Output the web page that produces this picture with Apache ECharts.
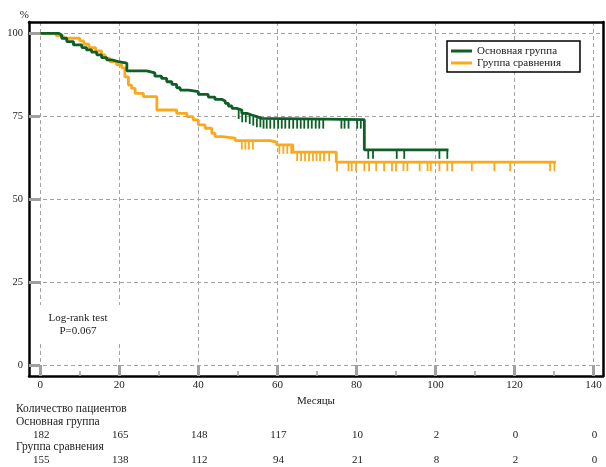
<!DOCTYPE html>
<html><head><meta charset="utf-8">
<script src="https://cdn.jsdelivr.net/npm/echarts@6/dist/echarts.min.js"></script>
<style>html,body{margin:0;padding:0;background:#fff}#c{width:606px;height:467px}</style>
</head><body><div id="c"></div>
<script>
const xTicks = [0, 20, 40, 60, 80, 100, 120, 140];
const xMinorTicks = [10, 30, 50, 70, 90, 110, 130];
const yTicks = [0, 25, 50, 75, 100];

const mainName = 'Основная группа';
const compName = 'Группа сравнения';

const mainTime = [0, 4.6, 5.4, 6.7, 8.4, 10.5, 11.7, 13.0, 14.3, 15.5, 16.8, 18.1, 19.7, 21.9, 26.9, 29.0, 30.7, 32.0, 33.3, 34.5, 35.4, 37.5, 40.0, 42.5, 44.2, 45.9, 46.8, 47.6, 48.5, 49.7, 51.0, 52.3, 53.5, 54.8, 56.0, 82.0, 103.3];
const mainSurv = [100, 99.5, 98.5, 97.5, 96.5, 95.7, 95.0, 94.3, 93.5, 92.7, 92.0, 91.5, 91.0, 88.7, 88.1, 87.1, 86.4, 85.4, 84.6, 83.6, 82.9, 82.4, 81.6, 80.8, 80.1, 79.6, 78.9, 78.1, 77.4, 76.9, 75.9, 75.4, 74.9, 74.4, 74.0, 64.9, 64.9];
const mainCensor = [50.2, 51.1, 52.0, 53.0, 53.9, 54.8, 55.7, 56.5, 57.3, 58.2, 59.2, 60.2, 61.1, 62.0, 63.0, 64.0, 65.0, 65.9, 66.8, 67.8, 68.7, 69.7, 70.6, 71.6, 76.2, 77.0, 78.0, 80.2, 81.1, 83.0, 84.2, 90.2, 92.1, 101.0, 103.0];

const compTime = [0, 4.0, 5.8, 10.0, 11.0, 12.3, 14.0, 15.5, 16.4, 17.6, 19.3, 20.6, 21.4, 22.3, 23.1, 24.0, 26.1, 29.5, 34.5, 37.1, 38.7, 40.0, 41.7, 43.4, 44.2, 46.0, 49.3, 58.2, 59.8, 63.9, 74.9, 130.5];
const compSurv = [100, 99.3, 98.5, 97.7, 96.7, 95.7, 94.7, 93.5, 92.5, 91.5, 90.5, 89.6, 86.9, 84.4, 83.4, 81.9, 80.9, 76.9, 75.9, 74.9, 73.9, 72.4, 71.4, 69.9, 68.9, 68.4, 67.7, 67.2, 66.4, 64.2, 61.2, 61.2];
const compCensor = [51.0, 51.9, 52.8, 53.8, 60.5, 61.5, 62.5, 63.5, 65.0, 66.0, 67.0, 68.0, 69.0, 69.9, 70.8, 71.8, 73.1, 75.1, 78.0, 78.8, 79.9, 82.0, 83.2, 85.0, 87.0, 89.0, 90.0, 91.9, 92.9, 96.0, 98.0, 98.8, 101.0, 103.0, 104.2, 109.2, 114.9, 118.9, 129.0, 130.1];

const riskTimes = [0, 20, 40, 60, 80, 100, 120, 140];
const riskMain = [182, 165, 148, 117, 10, 2, 0, 0];
const riskComp = [155, 138, 112, 94, 21, 8, 2, 0];

const GREEN = '#0e5e26';
const ORANGE = '#fba81c';
const FONT = 'Liberation Serif';
const XMIN = -2.86, XMAX = 142.4, YMIN = -3.2, YMAX = 103.4;

function survAt(times, survs, t) {
  let v = survs[0];
  for (let i = 0; i < times.length; i++) { if (times[i] <= t) v = survs[i]; }
  return v;
}
const pairs = (a, b) => a.map((t, i) => [t, b[i]]);
const censorData = (c, times, survs) => c.map(t => [t, survAt(times, survs, t)]);

const riskData = [];
riskTimes.forEach((t, i) => { riskData.push([t, 0, String(riskMain[i])]); riskData.push([t, 1, String(riskComp[i])]); });

const gridLine = { show: true, lineStyle: { color: '#a3a3a3', width: 1, type: [4, 3] } };
const stub = { color: '#a0a0a0', width: 3 };
const frame = { show: true, onZero: false, lineStyle: { color: '#000', width: 2.5 } };

const chart = echarts.init(document.getElementById('c'), null, { renderer: 'canvas' });
chart.setOption({
  animation: false,
  backgroundColor: '#fff',
  textStyle: { fontFamily: FONT },
  grid: [
    { left: 29, right: 3, top: 22, bottom: 91 },
    { left: 29, right: 3, top: 435, height: 25 }
  ],
  xAxis: [
    { type: 'value', gridIndex: 0, min: XMIN, max: XMAX, position: 'bottom',
      axisLine: frame,
      axisTick: { show: true, inside: true, length: 11, customValues: xTicks, lineStyle: stub },
      axisLabel: { show: true, customValues: xTicks, margin: 4, fontSize: 11, color: '#222', fontFamily: FONT },
      splitLine: gridLine,
      name: 'Месяцы', nameLocation: 'middle', nameGap: 20,
      nameTextStyle: { fontSize: 11, color: '#222', fontFamily: FONT } },
    { type: 'value', gridIndex: 0, min: XMIN, max: XMAX, position: 'bottom',
      axisLine: { show: false, onZero: false },
      axisTick: { show: true, inside: true, length: 5, customValues: xMinorTicks, lineStyle: { color: '#a0a0a0', width: 1.5 } },
      axisLabel: { show: false }, splitLine: { show: false } },
    { type: 'value', gridIndex: 0, min: XMIN, max: XMAX, position: 'top',
      axisLine: frame, axisTick: { show: false }, axisLabel: { show: false }, splitLine: { show: false } },
    { type: 'value', gridIndex: 1, min: XMIN, max: XMAX, show: false }
  ],
  yAxis: [
    { type: 'value', gridIndex: 0, min: YMIN, max: YMAX, position: 'left',
      axisLine: frame,
      axisTick: { show: true, inside: true, length: 11, customValues: yTicks, lineStyle: stub },
      axisLabel: { show: true, customValues: yTicks, margin: 6, fontSize: 10.5, color: '#222', fontFamily: FONT },
      splitLine: gridLine,
      name: '%', nameLocation: 'end', nameGap: 1,
      nameTextStyle: { fontSize: 11, color: '#222', align: 'right', padding: [0, 0, 0, 0], fontFamily: FONT } },
    { type: 'value', gridIndex: 0, min: YMIN, max: YMAX, position: 'right',
      axisLine: frame, axisTick: { show: false }, axisLabel: { show: false }, splitLine: { show: false } },
    { type: 'value', gridIndex: 1, min: 0, max: 1, inverse: true, show: false }
  ],
  legend: {
    data: [mainName, compName],
    orient: 'vertical', left: 447, top: 41,
    icon: 'rect', itemWidth: 21, itemHeight: 3, itemGap: 0,
    backgroundColor: '#fff', borderColor: '#000', borderWidth: 1.5, borderRadius: 0,
    padding: [4, 19, 3, 4],
    textStyle: { fontSize: 11, color: '#222', lineHeight: 12, fontFamily: FONT }
  },
  graphic: [
    { type: 'rect', z: 10, shape: { x: 34, y: 305, width: 90, height: 37 }, style: { fill: '#fff' } },
    { type: 'text', z: 11, x: 78, y: 318, style: { text: 'Log-rank test', fontSize: 11, fontFamily: FONT, fill: '#222', align: 'center', verticalAlign: 'middle' } },
    { type: 'text', z: 11, x: 78, y: 331, style: { text: 'P=0.067', fontSize: 11, fontFamily: FONT, fill: '#222', align: 'center', verticalAlign: 'middle' } },
    { type: 'text', x: 16, y: 409, style: { text: 'Количество пациентов', fontSize: 11.5, fontFamily: FONT, fill: '#222', verticalAlign: 'middle' } },
    { type: 'text', x: 16, y: 422, style: { text: mainName, fontSize: 11.5, fontFamily: FONT, fill: '#222', verticalAlign: 'middle' } },
    { type: 'text', x: 16, y: 447, style: { text: compName, fontSize: 11.5, fontFamily: FONT, fill: '#222', verticalAlign: 'middle' } }
  ],
  series: [
    { name: mainName, type: 'line', step: 'end', xAxisIndex: 0, yAxisIndex: 0, data: pairs(mainTime, mainSurv),
      showSymbol: false, symbol: 'none', lineStyle: { color: GREEN, width: 2.8 }, itemStyle: { color: GREEN }, z: 3 },
    { name: compName, type: 'line', step: 'end', xAxisIndex: 0, yAxisIndex: 0, data: pairs(compTime, compSurv),
      showSymbol: false, symbol: 'none', lineStyle: { color: ORANGE, width: 2.8 }, itemStyle: { color: ORANGE }, z: 2 },
    { name: mainName + ' цензурированные', type: 'scatter', xAxisIndex: 0, yAxisIndex: 0, data: censorData(mainCensor, mainTime, mainSurv),
      symbol: 'rect', symbolSize: [1.8, 9], symbolOffset: [0, 4.5], itemStyle: { color: GREEN, opacity: 1 }, z: 3 },
    { name: compName + ' цензурированные', type: 'scatter', xAxisIndex: 0, yAxisIndex: 0, data: censorData(compCensor, compTime, compSurv),
      symbol: 'rect', symbolSize: [1.8, 9], symbolOffset: [0, 4.5], itemStyle: { color: ORANGE, opacity: 1 }, z: 2 },
    { name: 'risk', type: 'scatter', xAxisIndex: 3, yAxisIndex: 2, data: riskData, symbolSize: 0,
      itemStyle: { opacity: 1 },
      label: { show: true, position: 'inside', formatter: p => p.value[2], fontSize: 11, color: '#222', opacity: 1, fontFamily: FONT, offset: [1, 0] } }
  ]
});
</script></body></html>
